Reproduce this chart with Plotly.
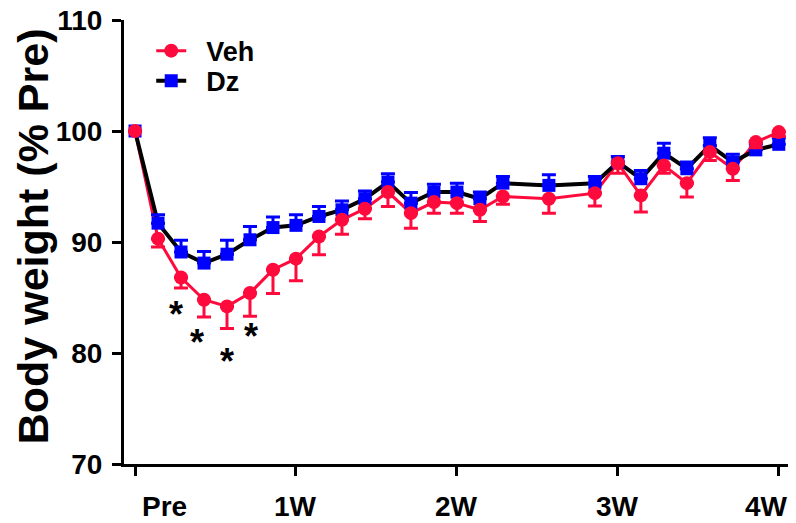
import plotly.graph_objects as go

# Study days (0 = pre-treatment baseline)
days = [0, 1, 2, 3, 4, 5, 6, 7, 8, 9, 10, 11, 12, 13, 14, 15, 16, 18,
        20, 21, 22, 23, 24, 25, 26, 27, 28]

# Body weight, % of pre-treatment value (mean) and SEM
veh_mean = [100.0, 90.3, 86.8, 84.8, 84.2, 85.4, 87.5, 88.5, 90.5, 92.0,
            93.0, 94.5, 92.6, 93.6, 93.5, 92.9, 94.1, 93.9, 94.4, 97.1,
            94.2, 96.9, 95.3, 98.1, 96.6, 99.0, 99.9]
veh_sem = [0.0, 0.75, 0.95, 1.55, 2.0, 2.1, 2.15, 2.0, 1.65, 1.3, 0.9, 1.3,
           1.35, 1.0, 0.9, 1.05, 0.7, 1.3, 1.15, 0.9, 1.5, 0.7, 1.25, 0.75,
           1.05, 0.5, 0.4]
dz_mean = [100.0, 91.7, 89.1, 88.1, 88.9, 90.2, 91.3, 91.5, 92.3, 92.9,
           93.9, 95.4, 93.5, 94.5, 94.5, 93.9, 95.3, 95.1, 95.3, 97.2,
           95.7, 98.0, 96.6, 98.7, 97.2, 98.3, 98.8]
dz_sem = [0.0, 0.75, 1.05, 1.05, 1.25, 1.2, 0.95, 0.95, 0.9, 0.8, 0.7, 0.75,
          0.95, 0.7, 0.8, 0.6, 0.6, 0.95, 0.6, 0.5, 0.75, 0.9, 0.6, 0.7,
          0.7, 0.55, 0.6]

# Axis ticks
week_ticks = [0, 7, 14, 21, 28]
week_labels = ["Pre", "1W", "2W", "3W", "4W"]
y_ticks = [70, 80, 90, 100, 110]

# Significance markers (Veh vs Dz)
sig_days = [1.8, 2.7, 4.0, 5.05]
sig_y = [84.0, 81.5, 79.8, 82.0]

RED = "#FF0A3C"
BLUE = "#0000FF"
FONT = "Liberation Sans, Arial, Helvetica, sans-serif"

fig = go.Figure()

# Connecting lines first, symbols on top
fig.add_trace(go.Scatter(x=days, y=veh_mean, mode="lines",
                         line=dict(color=RED, width=3),
                         showlegend=False, hoverinfo="skip"))
fig.add_trace(go.Scatter(x=days, y=dz_mean, mode="lines",
                         line=dict(color="black", width=4),
                         showlegend=False, hoverinfo="skip"))

# Dz symbols with upward SEM bars
fig.add_trace(go.Scatter(
    x=days, y=dz_mean, mode="markers",
    marker=dict(symbol="square", size=13, color=BLUE),
    error_y=dict(type="data", symmetric=False, array=dz_sem,
                 arrayminus=[0] * len(dz_sem), color=BLUE,
                 thickness=3, width=7),
    showlegend=False))

# Veh symbols with downward SEM bars
fig.add_trace(go.Scatter(
    x=days, y=veh_mean, mode="markers",
    marker=dict(symbol="circle", size=14, color=RED),
    error_y=dict(type="data", symmetric=False, array=[0] * len(veh_sem),
                 arrayminus=veh_sem, color=RED, thickness=3, width=7),
    showlegend=False))

# Legend entries
fig.add_trace(go.Scatter(x=[None], y=[None], mode="lines+markers",
                         name="\u00a0\u00a0Veh",
                         line=dict(color=RED, width=3),
                         marker=dict(symbol="circle", size=14, color=RED),
                         legend="legend"))
fig.add_trace(go.Scatter(x=[None], y=[None], mode="lines+markers",
                         name="\u00a0\u00a0Dz",
                         line=dict(color="black", width=4),
                         marker=dict(symbol="square", size=13, color=BLUE),
                         legend="legend2"))

annotations = [
    dict(x=d, y=v, xref="x", yref="y", text="*", showarrow=False,
         font=dict(family=FONT, size=36, color="black", weight="bold"),
         xanchor="center", yanchor="middle", yshift=-6)
    for d, v in zip(sig_days, sig_y)
]

# Week labels under the x-axis; the end labels are nudged inward
label_font = dict(family=FONT, size=28, color="black", weight="bold")
label_nudge = [29, 0, 0, 0, -12]
for t, lab, dx in zip(week_ticks, week_labels, label_nudge):
    annotations.append(dict(x=t, y=0, xref="x", yref="paper", text=lab,
                            showarrow=False, xanchor="center",
                            yanchor="middle", xshift=dx, yshift=-42,
                            font=label_font))

annotations.append(dict(
    x=0, y=0.513, xref="paper", yref="paper", xshift=-91,
    text="Body weight (% Pre)", textangle=-90, showarrow=False,
    xanchor="center", yanchor="middle",
    font=dict(family=FONT, size=43, color="black", weight="bold")))

legend_font = dict(family=FONT, size=27, color="black", weight="bold")

fig.update_layout(
    width=796, height=523,
    margin=dict(l=124, r=8, t=20, b=59, autoexpand=False),
    paper_bgcolor="white", plot_bgcolor="white",
    font=dict(family=FONT, color="black"),
    annotations=annotations,
    legend=dict(x=0.041, y=0.93, xanchor="left", yanchor="middle",
                bgcolor="rgba(0,0,0,0)", font=legend_font,
                itemwidth=30),
    legend2=dict(x=0.041, y=0.862, xanchor="left", yanchor="middle",
                 bgcolor="rgba(0,0,0,0)", font=legend_font,
                 itemwidth=30),
    xaxis=dict(range=[-0.48, 28.4], tickvals=week_ticks,
               showticklabels=False, ticks="outside", ticklen=9,
               tickwidth=3, tickcolor="black", showline=True,
               linewidth=3, linecolor="black", showgrid=False,
               zeroline=False, automargin=False),
    yaxis=dict(range=[70, 110], tickvals=y_ticks, ticks="outside",
               ticklen=9, tickwidth=3, tickcolor="black", showline=True,
               linewidth=3, linecolor="black", showgrid=False,
               zeroline=False, ticklabelstandoff=4, automargin=False,
               tickfont=dict(family=FONT, size=28, color="black",
                             weight="bold")),
)

fig.write_html("out.html")
